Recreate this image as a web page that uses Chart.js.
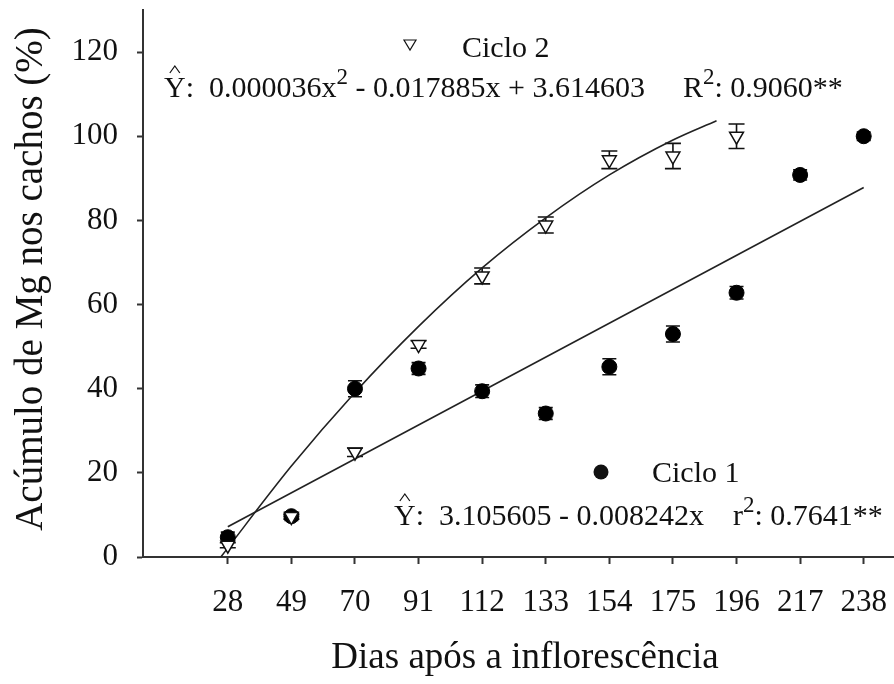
<!DOCTYPE html>
<html>
<head>
<meta charset="utf-8">
<script src="https://cdn.jsdelivr.net/npm/chart.js@4.4.0/dist/chart.umd.min.js"></script>
<style>
  html, body { margin: 0; padding: 0; background: #fff; }
  #wrap { width: 894px; height: 684px; }
</style>
</head>
<body>
<div id="wrap"><canvas id="grafico"></canvas></div>
<script>
"use strict";

// dias após a inflorescência (eixo x)
var dias = [28, 49, 70, 91, 112, 133, 154, 175, 196, 217, 238];
var yTicks = [0, 20, 40, 60, 80, 100, 120];

// Ciclo 1: médias e erro padrão (%)
var ciclo1 = [4.7, 9.7, 40.0, 44.8, 39.4, 34.1, 45.2, 53.0, 62.8, 90.8, 100.0];
var ciclo1Erro = [1.2, 1.0, 1.9, 1.4, 1.5, 1.4, 1.9, 1.9, 1.5, 1.2, 1.0];

// Ciclo 2: coletas até 196 dias
var diasCiclo2 = [28, 49, 70, 91, 112, 133, 154, 175, 196];
var ciclo2 = [2.8, 9.6, 24.9, 50.5, 66.8, 78.9, 94.4, 95.3, 100.0];
var ciclo2Erro = [0.6, 0.6, 1.0, 0.9, 1.9, 1.9, 2.1, 3.0, 2.9];

// curvas ajustadas
var ajuste1X = [28, 238];
var ajuste1Y = [7.2, 87.8];
var ajuste2X = [25.7, 49, 70, 91, 112, 133, 154, 175, 189.4];
var ajuste2Y = [0, 21.6, 39.1, 54.8, 68.7, 80.6, 90.8, 99.1, 103.7];

var tituloX = 'Dias após a inflorescência';
var tituloY = 'Acúmulo de Mg nos cachos (%)';

var FONTE = '"Liberation Serif", "Times New Roman", serif';
var PRETO = '#111';

function pares(xs, ys) {
  return xs.map(function (x, i) { return { x: x, y: ys[i] }; });
}

// barras de erro desenhadas antes dos marcadores
var barrasErro = {
  id: 'barrasErro',
  beforeDatasetsDraw: function (chart) {
    var ctx = chart.ctx, sx = chart.scales.x, sy = chart.scales.y;
    function barra(xv, yv, e, meia) {
      var px = sx.getPixelForValue(xv);
      var y1 = sy.getPixelForValue(yv - e), y2 = sy.getPixelForValue(yv + e);
      ctx.beginPath();
      ctx.moveTo(px, y1); ctx.lineTo(px, y2);
      ctx.moveTo(px - meia, y1); ctx.lineTo(px + meia, y1);
      ctx.moveTo(px - meia, y2); ctx.lineTo(px + meia, y2);
      ctx.stroke();
    }
    ctx.save();
    ctx.strokeStyle = PRETO;
    ctx.lineWidth = 1.6;
    dias.forEach(function (d, i) { barra(d, ciclo1[i], ciclo1Erro[i], 7); });
    diasCiclo2.forEach(function (d, i) { barra(d, ciclo2[i], ciclo2Erro[i], 8); });
    ctx.restore();
  }
};

function escreve(ctx, x, y, partes) {
  partes.forEach(function (p) {
    ctx.font = (p.sup ? 23 : 30) + 'px ' + FONTE;
    ctx.fillText(p.t, x, p.sup ? y - 13 : y);
    var w = ctx.measureText(p.t).width;
    if (p.chapeu) {
      var cx = x + w / 2, base = y - 24;
      ctx.beginPath();
      ctx.moveTo(cx - 5, base); ctx.lineTo(cx, base - 7); ctx.lineTo(cx + 5, base);
      ctx.stroke();
    }
    x += w;
  });
}

// títulos dos eixos, legendas e equações
var anotacoes = {
  id: 'anotacoes',
  afterDraw: function (chart) {
    var ctx = chart.ctx;
    ctx.save();
    ctx.fillStyle = PRETO;
    ctx.strokeStyle = PRETO;
    ctx.lineWidth = 1.2;

    ctx.textAlign = 'center';
    ctx.textBaseline = 'alphabetic';
    ctx.font = '37px ' + FONTE;
    ctx.fillText(tituloX, 525, 668);
    ctx.save();
    ctx.translate(42, 279);
    ctx.rotate(-Math.PI / 2);
    ctx.font = '39px ' + FONTE;
    ctx.fillText(tituloY, 0, 0);
    ctx.restore();

    ctx.textAlign = 'left';

    // Ciclo 2
    ctx.beginPath();
    ctx.moveTo(404, 40); ctx.lineTo(416, 40); ctx.lineTo(410, 50); ctx.closePath();
    ctx.stroke();
    escreve(ctx, 462, 57, [{ t: 'Ciclo 2' }]);
    escreve(ctx, 164, 97, [
      { t: 'Y', chapeu: true }, { t: ':  0.000036x' }, { t: '2', sup: true },
      { t: ' - 0.017885x + 3.614603' }
    ]);
    escreve(ctx, 683, 97, [{ t: 'R' }, { t: '2', sup: true }, { t: ': 0.9060**' }]);

    // Ciclo 1
    ctx.beginPath();
    ctx.arc(601, 472, 7.5, 0, Math.PI * 2);
    ctx.fill();
    escreve(ctx, 652, 482, [{ t: 'Ciclo 1' }]);
    escreve(ctx, 394, 525, [
      { t: 'Y', chapeu: true }, { t: ':  3.105605 - 0.008242x' }
    ]);
    escreve(ctx, 733, 525, [{ t: 'r' }, { t: '2', sup: true }, { t: ': 0.7641**' }]);
    ctx.restore();
  }
};

var ctx = document.getElementById('grafico').getContext('2d');
new Chart(ctx, {
  type: 'scatter',
  data: {
    datasets: [
      {
        label: 'Ciclo 2',
        data: pares(diasCiclo2, ciclo2),
        pointStyle: 'triangle',
        rotation: 180,
        pointRadius: 8,
        backgroundColor: '#fff',
        borderColor: PRETO,
        borderWidth: 1.5,
        order: 0
      },
      {
        label: 'Ciclo 1',
        data: pares(dias, ciclo1),
        pointStyle: 'circle',
        pointRadius: 7.5,
        backgroundColor: '#000',
        borderColor: '#000',
        borderWidth: 1,
        order: 1
      },
      {
        label: 'Ajuste Ciclo 2',
        data: pares(ajuste2X, ajuste2Y),
        showLine: true,
        pointRadius: 0,
        borderColor: '#222',
        borderWidth: 1.6,
        tension: 0.4,
        cubicInterpolationMode: 'monotone',
        order: 2
      },
      {
        label: 'Ajuste Ciclo 1',
        data: pares(ajuste1X, ajuste1Y),
        showLine: true,
        pointRadius: 0,
        borderColor: '#222',
        borderWidth: 1.6,
        order: 2
      }
    ]
  },
  options: {
    responsive: true,
    maintainAspectRatio: false,
    animation: false,
    layout: { autoPadding: false, padding: { top: 10, right: 0, left: 0, bottom: 0 } },
    plugins: {
      legend: { display: false },
      tooltip: { enabled: false }
    },
    scales: {
      x: {
        type: 'linear',
        min: 0,
        max: 248,
        afterFit: function (s) {
          s.height = 127;
          s.paddingLeft = 0;
          s.paddingRight = 0;
        },
        afterBuildTicks: function (s) {
          s.ticks = dias.map(function (v) { return { value: v }; });
        },
        border: { color: '#333', width: 2 },
        grid: { drawOnChartArea: false, drawTicks: true, tickLength: 7, tickColor: '#333', tickWidth: 2 },
        ticks: {
          color: PRETO,
          padding: 20,
          maxRotation: 0,
          font: { family: FONTE, size: 31 },
          callback: function (v) { return String(v); }
        }
      },
      y: {
        min: 0,
        max: 130,
        afterFit: function (s) {
          s.width = 143;
          s.paddingTop = 0;
          s.paddingBottom = 0;
        },
        afterBuildTicks: function (s) {
          s.ticks = yTicks.map(function (v) { return { value: v }; });
        },
        border: { color: '#333', width: 2 },
        grid: { drawOnChartArea: false, drawTicks: true, tickLength: 6, tickColor: '#333', tickWidth: 2 },
        ticks: {
          color: PRETO,
          padding: 19,
          font: { family: FONTE, size: 31 },
          callback: function (v) { return String(v); }
        }
      }
    }
  },
  plugins: [barrasErro, anotacoes]
});
</script>
</body>
</html>
